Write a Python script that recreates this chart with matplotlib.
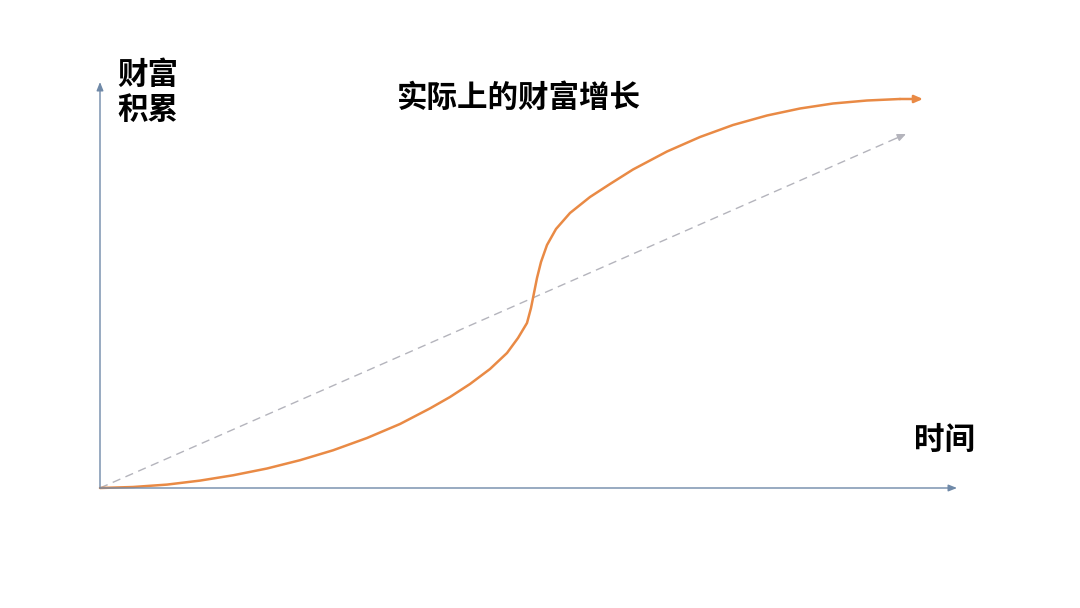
import matplotlib
matplotlib.use("Agg")
from matplotlib import pyplot as plt

plt.rcParams['font.family'] = ['Noto Sans CJK SC', 'DejaVu Sans']

# chart units: time to the right of the origin, wealth above it
curve_time = [0, 33, 67, 100, 133, 167, 200, 233, 267, 300, 330, 350, 370, 390,
              407, 418, 427, 431, 434, 437, 441, 447, 456, 470, 490, 510, 533,
              567, 600, 633, 667, 700, 733, 767, 800, 823]
curve_wealth = [0, 1, 3.4, 7.4, 12.7, 19.5, 27.8, 37.7, 50, 64, 79.6, 91, 104, 119,
                135, 150, 165, 180, 195, 210, 226, 243, 259, 275, 291, 304, 318.5,
                336.5, 351, 363, 372.5, 379.5, 384.5, 387.5, 389, 389]

linear_time = [0, 806]
linear_wealth = [0, 354]

axis_x_end = 857
axis_y_end = 406

title = "实际上的财富增长"
y_label = "财富\n积累"
x_label = "时间"

axis_color = "#6f89a8"
curve_color = "#e98a45"
dash_color = "#b4b4bc"

fig = plt.figure(figsize=(10.8, 6.08), dpi=100)
ax = fig.add_axes([0, 0, 1, 1])
ax.set_xlim(-100, 980)
ax.set_ylim(-120, 488)
ax.axis("off")

# axes with arrowheads
head = "-|>,head_length=0.5,head_width=0.2"
ax.annotate("", xy=(axis_x_end, 0), xytext=(0, 0),
            arrowprops=dict(arrowstyle=head, color=axis_color, lw=1.0,
                            shrinkA=0, shrinkB=0))
ax.annotate("", xy=(0, axis_y_end), xytext=(0, 0),
            arrowprops=dict(arrowstyle=head, color=axis_color, lw=1.0,
                            shrinkA=0, shrinkB=0))

# straight-line expectation
ax.plot(linear_time[:1] + [linear_time[-1] - 6],
        linear_wealth[:1] + [linear_wealth[-1] - 2.6],
        color=dash_color, lw=1.0, dashes=(6, 4))
ax.annotate("", xy=(linear_time[-1], linear_wealth[-1]),
            xytext=(linear_time[-1] - 10, linear_wealth[-1] - 4.4),
            arrowprops=dict(arrowstyle="-|>,head_length=0.5,head_width=0.22",
                            color=dash_color, lw=1.0, shrinkA=0, shrinkB=0))

# actual wealth curve
ax.plot(curve_time[:-1], curve_wealth[:-1], color=curve_color, lw=1.8,
        solid_capstyle="round", solid_joinstyle="round")
ax.annotate("", xy=(curve_time[-1], curve_wealth[-1]),
            xytext=(curve_time[-2], curve_wealth[-2]),
            arrowprops=dict(arrowstyle="-|>,head_length=0.5,head_width=0.22",
                            color=curve_color, lw=1.8, shrinkA=0, shrinkB=0))

ax.text(17, 429, y_label, fontsize=22, fontweight="bold",
        ha="left", va="top", linespacing=1.1)
ax.text(419, 390, title, fontsize=22, fontweight="bold",
        ha="center", va="center")
ax.text(845, 48, x_label, fontsize=22, fontweight="bold",
        ha="center", va="center")

fig.savefig("out.png", dpi=100)
